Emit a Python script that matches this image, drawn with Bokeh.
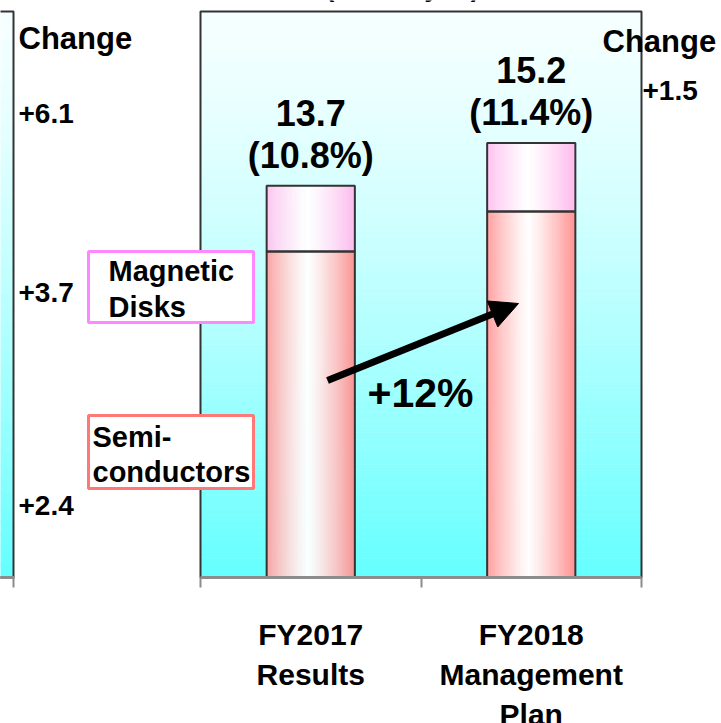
import numpy as np
from bokeh.plotting import figure
from bokeh.models import (Range1d, FixedTicker, Label, BoxAnnotation,
                          Arrow, NormalHead)
from bokeh.core.properties import value
from bokeh.embed import file_html
from bokeh.resources import INLINE

# ---------------- data ----------------
categories = ["FY2017\nResults", "FY2018\nManagement\nPlan"]
semiconductors = [11.4, 12.8]
magnetic_disks = [2.3, 2.4]
totals = [13.7, 15.2]
margins = [10.8, 11.4]
left_changes = ["+6.1", "+3.7", "+2.4"]      # change column of the preceding (cropped) panel
right_change = "+1.5"
series_names = ["Magnetic\nDisks", "Semi-\nconductors"]
change_title = "Change"
unit_title = "(Billion yen)"

# ---------------- layout ----------------
W, H = 721, 723
PL, PR, PT, PB = 200, 641, 11, 577      # plot-area box, in pixels
YMAX = 19.8
FONT_NAME = "Liberation Sans"
FONT = value(FONT_NAME)


def X(px):
    return (px - PL) * 2.0 / (PR - PL)


def Y(py):
    return (PB - py) * YMAX / (PB - PT)


p = figure(width=W, height=H, output_backend="svg", toolbar_location=None,
           x_range=Range1d(X(0), X(W)), y_range=Range1d(Y(H), Y(0)),
           y_axis_location=None, min_border=0,
           min_border_left=0, min_border_right=0, min_border_top=0, min_border_bottom=0)
p.grid.visible = False
p.outline_line_color = None
p.background_fill_color = "white"
p.border_fill_color = "white"


def grad(n):
    e = np.linspace(0, YMAX, n + 1)
    f = 1 - (e[:-1] + e[1:]) / 2 / YMAX
    r = (246 - 146 * f ** 1.35).astype(int)
    return e, ["#%02xffff" % v for v in r]


# main plot area background gradient (light at top, cyan at bottom)
ge, gcols = grad(90)
p.quad(left=0, right=2, bottom=ge[:-1], top=ge[1:],
       fill_color=gcols, line_color=gcols, line_width=0.6)
# left (cropped) panel strip
le, lcols = grad(40)
p.quad(left=X(-5), right=X(13), bottom=le[:-1], top=le[1:],
       fill_color=lcols, line_color=lcols, line_width=0.6)
p.quad(left=X(-10), right=X(13), bottom=0, top=YMAX,
       fill_color=None, line_color="#333333", line_width=2)
p.quad(left=X(-5), right=X(14), bottom=Y(578.5), top=Y(575.5),
       fill_color="#8c8c8c", line_color=None)
p.quad(left=X(12), right=X(14), bottom=Y(587), top=Y(577),
       fill_color="#8c8c8c", line_color=None)

# bars with horizontal gradient
centers = np.arange(len(categories)) + 0.5
BW = 0.4
NS = 44
t = (np.arange(NS) + 0.5) / NS
mix = np.clip(np.abs(t - 0.47) / 0.53, 0, 1) ** 1.2
SEMI_EDGE = (255, 145, 145)
MAG_EDGE = (255, 186, 238)


def shade(edge):
    return ["#%02x%02x%02x" % tuple(int(round(255 + (e - 255) * m)) for e in edge) for m in mix]


semi = np.array(semiconductors)
mag = np.array(magnetic_disks)
for i, c in enumerate(centers):
    lefts = c - BW / 2 + np.arange(NS) * BW / NS
    rights = lefts + BW / NS
    sc = shade(SEMI_EDGE)
    mc = shade(MAG_EDGE)
    p.quad(left=lefts, right=rights, bottom=0, top=semi[i],
           fill_color=sc, line_color=sc, line_width=0.6)
    p.quad(left=lefts, right=rights, bottom=semi[i], top=semi[i] + mag[i],
           fill_color=mc, line_color=mc, line_width=0.6)

p.quad(left=centers - BW / 2, right=centers + BW / 2, bottom=0, top=semi,
       fill_color=None, line_color="#333333", line_width=2)
p.quad(left=centers - BW / 2, right=centers + BW / 2, bottom=semi, top=semi + mag,
       fill_color=None, line_color="#333333", line_width=2)

# plot-area border (top, left, right)
p.quad(left=0, right=2, bottom=0, top=YMAX,
       fill_color=None, line_color="#333333", line_width=2)

# totals with margin
p.text(x=centers, y=semi + mag,
       text=[f"{tt:.1f}\n({m:.1f}%)" for tt, m in zip(totals, margins)],
       text_align="center", text_baseline="bottom", y_offset=-10,
       text_font=FONT, text_font_style="bold", text_font_size="36px",
       text_line_height=1.02, text_color="black")

# category labels under the axis
p.text(x=centers, y=Y(617), text=categories,
       text_align="center", text_baseline="top",
       text_font=FONT, text_font_style="bold", text_font_size="30px",
       text_line_height=1.22, text_color="black")

# growth arrow and label
growth = round((semi[1] / semi[0] - 1) * 100)
p.add_layout(Arrow(end=NormalHead(size=28, fill_color="black", line_color="black"),
                   x_start=X(327), y_start=Y(380), x_end=X(518), y_end=Y(303),
                   line_width=7, line_color="black"))


def lab(x, y, text, size, align="left", baseline="middle", lh=1.15):
    p.add_layout(Label(x=x, y=y, text=text, text_align=align, text_baseline=baseline,
                       text_font=FONT_NAME, text_font_style="bold", text_font_size=size,
                       text_line_height=lh, text_color="black"))


lab(X(420), Y(392), f"+{growth}%", "41px", align="center")

# x axis at y = 0, ticks at the category boundaries, drawn downwards
ax = p.xaxis[0]
ax.fixed_location = 0
ax.bounds = (0, 2)
ax.ticker = FixedTicker(ticks=[0, 1, 2], minor_ticks=[])
ax.major_label_overrides = {0: "", 1: "", 2: ""}
ax.major_label_text_font_size = "1px"
ax.major_label_standoff = 0
ax.axis_line_color = "#8c8c8c"
ax.axis_line_width = 3
ax.major_tick_line_color = "#8c8c8c"
ax.major_tick_line_width = 2
ax.major_tick_in = -10
ax.major_tick_out = 0
ax.minor_tick_line_color = None

# legend boxes
p.add_layout(BoxAnnotation(left=X(88), right=X(253), top=Y(251), bottom=Y(322),
                           fill_color="white", fill_alpha=1, line_color="#ff88ff",
                           line_alpha=1, line_width=3))
p.add_layout(BoxAnnotation(left=X(88), right=X(253), top=Y(415), bottom=Y(488),
                           fill_color="white", fill_alpha=1, line_color="#ff7878",
                           line_alpha=1, line_width=3))

lab(X(108), Y(288.5), series_names[0], "29px", lh=1.12)
lab(X(92), Y(454), series_names[1], "29px", lh=1.1)

# change columns
lab(X(18), Y(38), change_title, "31px")
for txt, py in zip(left_changes, [113, 292, 505]):
    lab(X(18), Y(py), txt, "28px")
lab(X(602), Y(41), change_title, "31px")
lab(X(642), Y(90), right_change, "28px")

# cropped unit title at the very top (only its descenders show)
lab(X(402), Y(-14), unit_title, "27px", align="center", baseline="alphabetic")

open("out.html", "w").write(file_html(p, INLINE))
